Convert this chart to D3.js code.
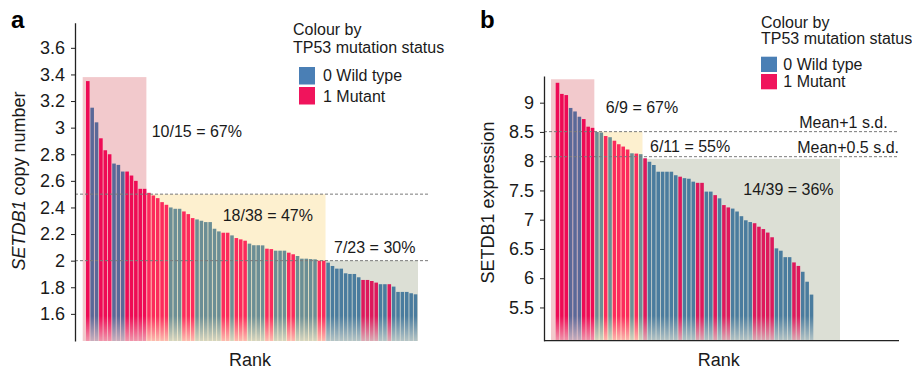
<!DOCTYPE html>
<html><head><meta charset="utf-8">
<script src="https://cdn.jsdelivr.net/npm/d3@7"></script>
<style>
body{margin:0;background:#fff;}
svg{display:block;font-family:"Liberation Sans",Arial,Helvetica,sans-serif;}
</style></head><body>
<svg id="chart" width="912" height="372"></svg>
<script>
// ---------- Panel a data: SETDB1 copy number, ranked ----------
const copyNumberA = [3.35,3.15,3.04,2.92,2.83,2.80,2.73,2.72,2.67,2.67,
  2.64,2.60,2.54,2.54,2.51,2.49,2.47,2.44,2.42,2.40,
  2.39,2.39,2.37,2.35,2.32,2.31,2.30,2.29,2.29,2.24,
  2.22,2.21,2.21,2.19,2.17,2.16,2.15,2.128,2.116,2.116,
  2.115,2.09,2.087,2.075,2.075,2.075,2.06,2.048,2.035,2.015,
  2.015,2.012,2.01,2.00,2.00,1.985,1.96,1.94,1.94,1.905,
  1.90,1.90,1.875,1.855,1.855,1.847,1.835,1.823,1.823,1.823,
  1.805,1.765,1.765,1.765,1.755,1.747];
const tp53A = [1,0,0,1,1,1,0,0,0,1,
  1,1,1,1,1,1,1,1,1,0,
  0,0,1,1,1,0,0,0,0,0,
  0,1,1,0,1,1,1,0,0,0,
  0,1,1,0,0,0,1,1,0,0,
  0,0,0,1,1,0,0,0,0,0,
  0,0,0,1,1,1,1,0,0,1,
  0,0,0,0,0,0];
const ticksA = [1.6,1.8,2,2.2,2.4,2.6,2.8,3,3.2,3.4,3.6];
const cutsA = [2.5, 2.0];
const groupLabelsA = ["10/15 = 67%","18/38 = 47%","7/23 = 30%"];
const groupBoundsA = [0,14,55,76];
const groupTopsA = [3.38, 2.5, 2.0];

// ---------- Panel b data: SETDB1 expression, ranked ----------
const expressionB = [9.34,9.15,9.13,8.91,8.85,8.76,8.72,8.59,8.57,8.50,
  8.49,8.43,8.41,8.35,8.29,8.25,8.20,8.135,8.13,8.12,
  8.05,7.99,7.935,7.82,7.82,7.82,7.82,7.76,7.735,7.71,
  7.70,7.65,7.63,7.63,7.48,7.48,7.42,7.365,7.25,7.21,
  7.19,7.14,7.06,6.99,6.96,6.94,6.88,6.84,6.78,6.70,
  6.51,6.47,6.36,6.36,6.27,6.21,6.11,5.94,5.72];
const tp53B = [1,1,1,0,0,0,1,1,1,0,
  0,1,0,1,1,1,1,0,1,0,
  1,0,0,0,0,0,0,0,1,0,
  0,0,1,1,0,0,1,0,1,1,
  0,0,0,0,0,1,1,1,1,1,
  0,0,0,0,1,1,0,0,0];
const ticksB = [5.5,6,6.5,7,7.5,8,8.5,9];
const cutsB = [8.505, 8.077];
const cutLabelsB = ["Mean+1 s.d.","Mean+0.5 s.d."];
const groupLabelsB = ["6/9 = 67%","6/11 = 55%","14/39 = 36%"];
const groupBoundsB = [0,9,20,59];
const groupTopsB = [9.4, 8.505, 8.04];

const legendLabels = ["0 Wild type","1 Mutant"];
const legendColors = ["#4a7fb5","#f0145c"];
const regionBg = ["#f2c9cc","#fdf0cf","#dcdfd5"];
const regionBar = [["#5a6898","#ee0a55"],["#6b8e95","#fc2a5c"],["#4a7c9e","#de185c"]];
const TXT = "#1a1a1a";

const svg = d3.select("#chart");
const defs = svg.append("defs");
const grad = defs.append("linearGradient").attr("id","fade")
  .attr("gradientUnits","userSpaceOnUse").attr("x1",0).attr("x2",0).attr("y1",316).attr("y2",341);
grad.append("stop").attr("offset",0).attr("stop-color","#fff");
grad.append("stop").attr("offset",1).attr("stop-color","#444");
defs.append("mask").attr("id","fadeMask").attr("maskUnits","userSpaceOnUse")
  .attr("x",0).attr("y",0).attr("width",912).attr("height",372)
  .append("rect").attr("width",912).attr("height",372).attr("fill","url(#fade)");

function panel(o){
  const g = svg.append("g");
  const n = o.values.length;
  const x = d3.scaleBand().domain(d3.range(n)).range(o.xRange).paddingInner(0.18);
  const y = d3.scaleLinear().domain(o.yDomain).range(o.yRange);
  const base = o.yRange[0];
  const regionOf = i => { for(let k=0;k<3;k++){ if(i>=o.bounds[k] && i<o.bounds[k+1]) return k; } return 2; };

  // region backgrounds
  for(let k=0;k<3;k++){
    const a = o.bounds[k], b = o.bounds[k+1];
    const x0 = k===0 ? x(0)-o.leftPad : x(a)-(x.step()-x.bandwidth());
    const x1 = b===n ? x(n-1)+x.bandwidth()+o.rightPad : x(b)-(x.step()-x.bandwidth());
    g.append("rect").attr("x",x0).attr("y",y(o.tops[k]))
      .attr("width",x1-x0).attr("height",base-y(o.tops[k])).attr("fill",regionBg[k]);
  }
  // bars
  g.append("g").attr("mask","url(#fadeMask)")
    .selectAll("rect").data(o.values).join("rect")
    .attr("x",(d,i)=>x(i)).attr("width",x.bandwidth())
    .attr("y",d=>y(d)).attr("height",d=>base-y(d))
    .attr("fill",(d,i)=>regionBar[regionOf(i)][o.status[i]]);

  // dashed threshold lines
  g.selectAll("line.cut").data(o.cuts).join("line").attr("class","cut")
    .attr("x1",o.axisX).attr("x2",o.cutEnd).attr("y1",d=>y(d)).attr("y2",d=>y(d))
    .attr("stroke","#7a7a7a").attr("stroke-width",1).attr("stroke-dasharray","3,2");

  // axis
  const ax = g.append("g").attr("transform",`translate(${o.axisX},0)`)
    .call(d3.axisLeft(y).tickValues(o.ticks).tickSize(4).tickSizeOuter(0).tickPadding(6).tickFormat(d3.format("~g")));
  ax.select(".domain").attr("stroke","#222").attr("stroke-width",1.3);
  ax.selectAll(".tick line").attr("stroke","#222");
  ax.selectAll("text").attr("font-size","18px").attr("fill",TXT).attr("font-family","Liberation Sans, Arial, sans-serif");

  // group labels
  o.labelPos.forEach((p,k)=>{
    g.append("text").attr("x",p[0]).attr("y",p[1]).attr("font-size","16px").attr("fill",TXT).text(o.labels[k]);
  });

  // y title
  const t = g.append("text").attr("transform",`translate(${o.titleX},${o.titleY}) rotate(-90)`)
    .attr("text-anchor","middle").attr("font-size","18px").attr("fill",TXT);
  if(o.italicPart){ t.append("tspan").attr("font-style","italic").text(o.italicPart); }
  t.append("tspan").text(o.titleRest);

  // Rank
  g.append("text").attr("x",o.rankX).attr("y",366).attr("text-anchor","middle")
    .attr("font-size","18px").attr("fill",TXT).text("Rank");
  // panel letter
  g.append("text").attr("x",o.letterX).attr("y",28).attr("font-size","24px").attr("font-weight","bold")
    .attr("fill","#000").text(o.letter);

  // legend
  const L = o.legend;
  g.append("text").attr("x",L.x).attr("y",L.y1).attr("font-size","16px").attr("fill",TXT).text("Colour by");
  g.append("text").attr("x",L.x).attr("y",L.y2).attr("font-size","16px").attr("fill",TXT).text("TP53 mutation status");
  legendLabels.forEach((lab,k)=>{
    g.append("rect").attr("x",L.sx).attr("y",L.sy[k]).attr("width",16).attr("height",L.sh).attr("fill",legendColors[k]);
    g.append("text").attr("x",L.tx).attr("y",L.ty[k]).attr("font-size","16px").attr("fill",TXT).text(lab);
  });
  return {g,x,y};
}

panel({
  values: copyNumberA, status: tp53A, xRange:[86,417.3],
  yDomain:[1.396,3.789], yRange:[341,22.7], axisX:75, ticks:ticksA,
  bounds: groupBoundsA, tops: groupTopsA, leftPad:3.3, rightPad:0.7,
  cuts: cutsA, cutEnd:430,
  labels: groupLabelsA, labelPos:[[151.7,137],[222.7,220.7],[334,253]],
  titleX:24.5, titleY:181, italicPart:"SETDB1", titleRest:" copy number",
  rankX:250, letter:"a", letterX:11,
  legend:{x:293,y1:35,y2:52.7,sx:299,sy:[67,87],sh:17.5,tx:323,ty:[81,101.5]}
});

const pb = panel({
  values: expressionB, status: tp53B, xRange:[555.7,813.3],
  yDomain:[4.932,9.456], yRange:[340.7,76], axisX:544, ticks:ticksB,
  bounds: groupBoundsB, tops: groupTopsB, leftPad:4.7, rightPad:26.7,
  cuts: cutsB, cutEnd:899,
  labels: groupLabelsB, labelPos:[[605.7,113.3],[650,151.7],[743.3,195]],
  titleX:494, titleY:202.5, italicPart:null, titleRest:"SETDB1 expression",
  rankX:718.7, letter:"b", letterX:480,
  legend:{x:761,y1:27.7,y2:44.3,sx:761,sy:[56.7,74],sh:15.3,tx:783.3,ty:[70,86.7]}
});
// panel b x axis line and threshold labels
pb.g.append("line").attr("x1",544).attr("x2",899).attr("y1",340.7).attr("y2",340.7)
  .attr("stroke","#222").attr("stroke-width",1.3);
const cutLabelX = [887.7, 899];
cutsB.forEach((c,k)=>{
  pb.g.append("text").attr("x",cutLabelX[k]).attr("y",pb.y(c)-4).attr("text-anchor","end")
    .attr("font-size","16px").attr("fill",TXT).text(cutLabelsB[k]);
});
</script>
</body></html>
